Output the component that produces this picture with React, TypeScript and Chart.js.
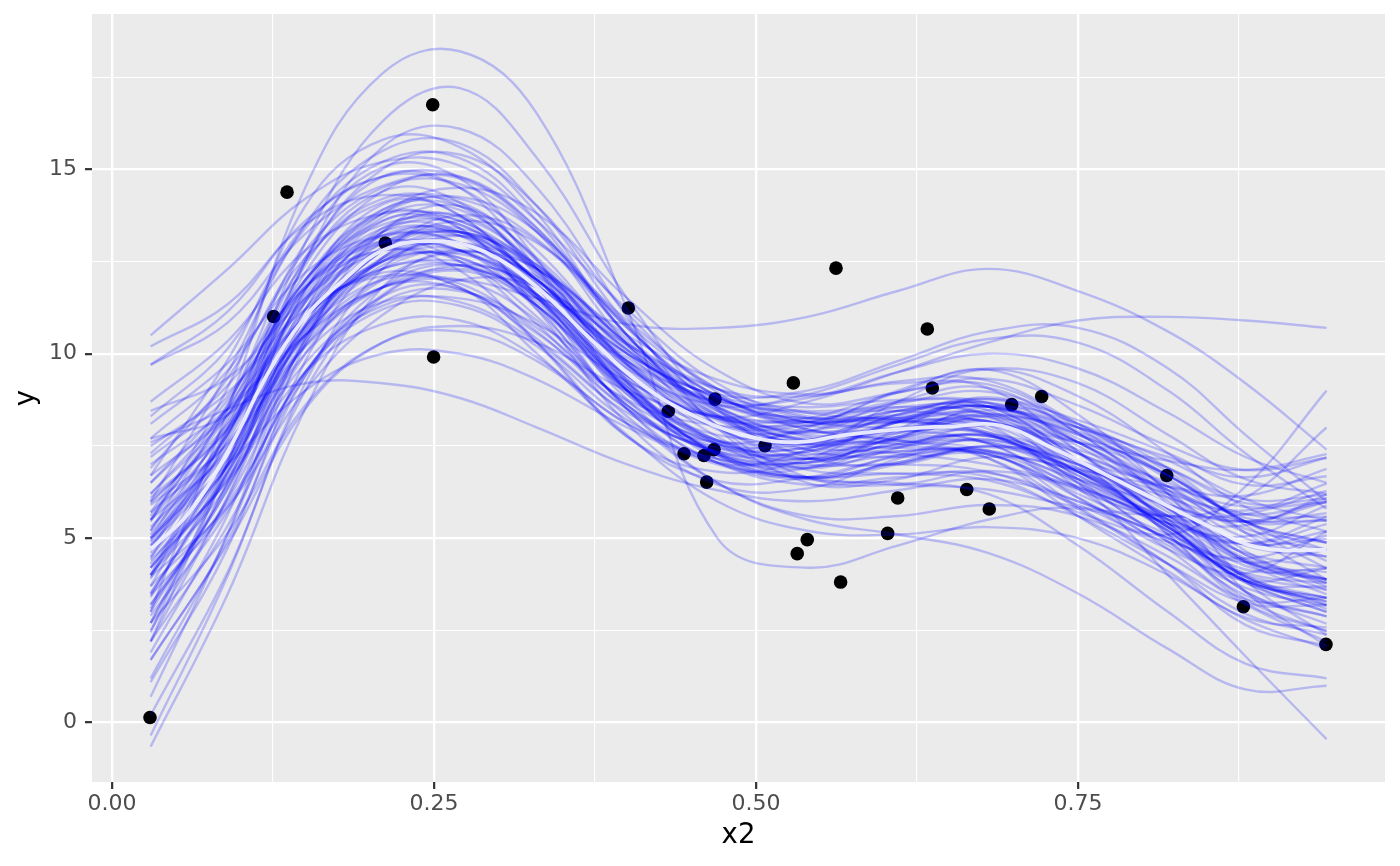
import React, { useEffect, useRef } from "react";
import { Chart, registerables } from "chart.js";

Chart.register(...registerables);

// x positions at which each posterior draw was read
const drawX = [0.03, 0.09, 0.15, 0.21, 0.27, 0.33, 0.4, 0.47, 0.54, 0.61, 0.68, 0.75, 0.82, 0.88, 0.943];

// posterior draws (y values at drawX)
const posteriorDraws: number[][] = [
  [3.0, 8.5, 14.5, 17.6, 18.2, 16.5, 11.2, 5.0, 4.2, 4.8, 5.5, 5.8, 5.0, 3.8, 3.0],
  [4.0, 8.0, 13.0, 16.3, 17.2, 15.3, 11.5, 8.5, 7.2, 7.0, 7.5, 7.0, 5.5, 4.0, 3.2],
  [2.2, 7.0, 12.5, 15.6, 16.1, 14.5, 11.0, 8.0, 6.5, 6.6, 7.2, 6.8, 5.6, 4.4, 3.6],
  [6.0, 9.5, 13.5, 15.5, 15.7, 14.0, 10.8, 8.6, 7.8, 8.0, 8.3, 7.5, 5.8, 4.4, 3.8],
  [5.5, 8.0, 11.5, 13.3, 13.2, 11.6, 9.3, 8.3, 8.7, 9.5, 10.3, 10.9, 11.0, 10.9, 10.7],
  [7.0, 8.5, 10.5, 11.8, 12.0, 11.5, 10.8, 10.7, 11.0, 11.7, 12.3, 11.7, 10.6, 9.2, 7.4],
  [5.5, 8.5, 12.0, 13.5, 13.5, 12.0, 9.8, 8.3, 7.7, 7.9, 7.8, 6.5, 4.0, 1.8, -0.45],
  [-0.65, 3.5, 8.5, 11.8, 12.8, 12.0, 9.8, 8.0, 7.3, 7.5, 7.6, 6.8, 5.6, 4.6, 4.2],
  [-0.35, 4.0, 9.2, 12.3, 13.2, 12.3, 10.2, 8.5, 7.6, 7.6, 7.6, 6.6, 5.2, 3.8, 3.0],
  [10.5, 12.3, 14.2, 15.2, 15.1, 13.6, 11.2, 9.2, 8.3, 8.3, 8.4, 7.6, 6.2, 5.0, 4.5],
  [7.6, 8.5, 9.2, 9.2, 8.8, 8.0, 7.0, 6.3, 6.0, 6.3, 6.6, 6.0, 5.0, 4.0, 3.6],
  [5.0, 7.0, 9.0, 10.0, 10.0, 9.3, 8.0, 7.0, 6.6, 7.0, 7.5, 7.0, 5.8, 4.8, 4.5],
  [4.0, 7.0, 10.8, 12.8, 12.8, 11.2, 8.5, 6.5, 5.5, 5.1, 4.6, 3.5, 2.0, 0.9, 1.0],
  [3.5, 6.8, 10.5, 12.5, 12.8, 11.5, 9.0, 7.3, 6.6, 6.5, 6.2, 4.8, 3.0, 1.6, 1.2],
  [4.2, 7.0, 10.6, 12.5, 12.6, 11.3, 9.0, 7.6, 7.0, 7.0, 6.8, 5.9, 5.1, 6.4, 9.0],
  [4.8, 7.8, 11.4, 13.2, 13.3, 12.0, 9.7, 8.2, 7.5, 7.3, 7.0, 6.4, 5.6, 6.1, 8.0],
  [6.2, 8.55, 12.0, 13.6, 13.7, 12.4, 10.0, 8.35, 7.85, 8.25, 8.57, 7.9, 6.9, 6.05, 6.18],
  [3.2, 6.05, 10.0, 12.0, 12.4, 11.3, 9.1, 7.65, 7.15, 7.35, 7.27, 6.1, 4.8, 3.65, 3.18],
  [7.7, 9.55, 12.6, 14.1, 14.2, 13.1, 10.8, 9.05, 8.25, 8.15, 7.87, 6.5, 4.9, 3.45, 2.88],
  [2.2, 5.35, 9.4, 11.4, 11.7, 10.7, 8.7, 7.65, 7.65, 8.35, 8.77, 8.0, 6.9, 5.95, 6.08],
  [5.2, 8.15, 12.2, 14.4, 14.8, 13.4, 10.5, 8.45, 7.65, 7.85, 8.07, 7.4, 6.5, 5.65, 5.58],
  [4.2, 6.65, 10.0, 11.4, 11.4, 10.3, 8.4, 7.45, 7.45, 7.95, 8.17, 7.1, 5.7, 4.35, 3.88],
  [6.7, 8.35, 11.0, 12.3, 12.4, 11.5, 9.8, 8.75, 8.45, 8.55, 8.37, 7.1, 5.6, 4.35, 4.08],
  [2.7, 6.55, 11.4, 13.7, 13.9, 12.3, 9.3, 7.25, 6.65, 7.05, 7.47, 6.9, 6.1, 5.45, 5.68],
  [5.7, 8.65, 12.5, 14.2, 14.0, 12.2, 9.2, 7.25, 6.65, 7.05, 7.37, 6.5, 5.2, 3.85, 3.28],
  [3.7, 5.95, 9.5, 11.6, 12.4, 11.8, 10.0, 8.85, 8.55, 8.75, 8.67, 7.6, 6.4, 5.45, 5.48],
  [8.7, 10.35, 12.8, 13.8, 13.6, 12.3, 10.1, 8.65, 8.15, 8.25, 8.27, 7.3, 6.3, 5.65, 5.98],
  [1.7, 4.95, 9.4, 11.8, 12.4, 11.4, 9.1, 7.55, 7.15, 7.55, 7.77, 6.7, 5.3, 3.95, 3.38],
  [4.7, 7.65, 11.6, 13.4, 13.3, 11.6, 8.9, 7.45, 7.35, 8.15, 8.77, 8.2, 7.3, 6.45, 6.68],
  [5.5, 7.35, 10.5, 12.3, 12.8, 12.1, 10.1, 8.55, 7.75, 7.55, 7.17, 5.8, 4.3, 2.95, 2.38],
  [6.9, 9.35, 12.8, 14.5, 14.6, 13.3, 10.7, 8.85, 8.15, 8.35, 8.57, 7.8, 6.7, 5.45, 4.88],
  [2.9, 5.75, 9.5, 11.2, 11.3, 10.2, 8.2, 7.15, 6.95, 7.25, 7.27, 6.2, 5.1, 4.35, 4.68],
  [5.9, 7.55, 10.2, 11.8, 12.3, 11.6, 9.7, 8.25, 7.55, 7.45, 7.27, 6.3, 5.4, 5.05, 5.88],
  [3.9, 7.75, 12.4, 14.4, 14.1, 12.1, 9.2, 7.65, 7.55, 8.35, 8.67, 7.6, 6.0, 4.35, 3.48],
  [7.3, 9.15, 11.8, 12.8, 12.5, 11.0, 8.6, 7.35, 7.35, 8.15, 8.57, 7.7, 6.4, 5.15, 4.68],
  [2.5, 6.15, 11.0, 13.4, 13.6, 11.9, 9.0, 7.25, 7.05, 7.75, 8.17, 7.1, 5.5, 3.95, 3.18],
  [5.0, 8.25, 12.6, 15.0, 15.4, 14.0, 11.1, 8.95, 8.05, 8.15, 8.17, 6.9, 5.3, 3.85, 3.38],
  [4.4, 6.55, 9.5, 10.8, 10.9, 9.9, 8.1, 7.15, 7.05, 7.35, 7.37, 6.6, 5.9, 5.45, 5.98],
  [6.5, 8.75, 11.8, 13.0, 12.8, 11.5, 9.4, 8.25, 8.05, 8.45, 8.67, 8.0, 7.2, 6.65, 7.18],
  [3.5, 6.75, 11.0, 13.1, 13.4, 12.4, 10.3, 8.75, 7.95, 7.65, 7.17, 5.6, 4.1, 2.85, 2.58],
  [5.3, 7.45, 10.7, 12.5, 13.0, 12.0, 9.6, 7.75, 6.85, 6.75, 6.57, 5.7, 4.9, 4.45, 5.08],
  [1.1, 4.75, 9.8, 12.6, 13.3, 12.2, 9.7, 8.05, 7.65, 8.15, 8.37, 7.3, 5.8, 4.45, 3.88],
  [8.1, 9.75, 12.2, 13.2, 13.0, 11.6, 9.4, 8.25, 8.25, 8.95, 9.17, 8.0, 6.3, 4.65, 3.68],
  [4.3, 7.15, 11.2, 13.3, 13.5, 11.9, 9.1, 7.35, 7.05, 7.75, 8.37, 7.8, 6.7, 5.45, 4.68],
  [5.6, 8.35, 11.8, 13.2, 13.0, 11.5, 9.2, 8.05, 8.05, 8.55, 8.47, 7.0, 5.2, 3.55, 2.68],
  [3.1, 6.35, 10.4, 12.4, 12.7, 11.8, 9.9, 8.65, 8.25, 8.25, 7.97, 6.7, 5.5, 4.85, 5.38],
  [4.9, 7.95, 12.0, 13.9, 14.0, 12.6, 10.3, 9.05, 8.85, 9.25, 9.27, 8.1, 6.7, 5.55, 5.48],
  [4.6, 6.95, 10.2, 11.8, 12.0, 10.9, 8.6, 7.05, 6.45, 6.65, 6.77, 6.0, 5.0, 4.05, 3.78],
  [9.7, 11.15, 13.6, 14.8, 14.8, 13.4, 10.7, 8.85, 8.25, 8.65, 8.97, 8.1, 6.8, 5.45, 4.88],
  [0.7, 5.15, 10.4, 12.9, 13.2, 11.8, 9.0, 7.15, 6.65, 7.25, 7.67, 6.8, 5.4, 3.95, 3.08],
  [6.1, 7.95, 11.0, 12.5, 12.6, 11.3, 8.9, 7.55, 7.45, 8.15, 8.57, 7.6, 6.1, 4.55, 3.78],
  [3.4, 7.05, 11.7, 13.9, 14.1, 12.5, 9.7, 7.95, 7.55, 7.95, 8.07, 6.8, 5.3, 4.15, 4.18],
  [7.5, 8.95, 11.2, 12.1, 11.9, 10.6, 8.5, 7.35, 7.15, 7.55, 7.77, 7.0, 6.2, 5.75, 6.48],
  [1.9, 5.65, 10.4, 12.8, 13.3, 12.3, 10.1, 8.45, 7.65, 7.65, 7.77, 7.1, 6.4, 5.85, 5.98],
  [5.1, 7.85, 11.4, 13.0, 13.3, 12.4, 10.4, 8.85, 7.95, 7.65, 7.37, 6.4, 5.5, 4.85, 4.98],
  [4.0, 6.45, 10.3, 12.6, 13.2, 12.0, 9.4, 7.65, 7.25, 7.85, 8.47, 8.0, 7.1, 6.05, 5.48],
  [8.3, 10.15, 13.4, 15.2, 15.3, 13.6, 10.5, 8.35, 7.55, 7.75, 7.87, 6.8, 5.3, 3.85, 3.28],
  [2.7, 5.15, 8.6, 10.3, 10.6, 9.8, 8.1, 7.05, 6.65, 6.75, 6.67, 5.6, 4.3, 3.25, 3.18],
  [4.8, 7.15, 10.7, 12.8, 13.6, 13.0, 10.9, 9.05, 8.15, 8.15, 8.17, 7.3, 6.3, 5.25, 4.88],
  [3.7, 7.35, 11.9, 13.8, 13.4, 11.2, 8.1, 6.45, 6.35, 7.15, 7.67, 6.8, 5.3, 3.85, 3.38],
  [4.5, 7.0, 10.5, 12.0, 11.8, 10.0, 7.8, 6.0, 5.2, 5.1, 5.3, 5.0, 4.0, 2.8, 2.0],
  [6.5, 8.5, 11.0, 12.2, 11.8, 10.4, 8.3, 6.5, 5.6, 5.6, 5.9, 5.6, 4.5, 3.2, 2.2],
  [5.0, 7.5, 11.0, 13.0, 13.3, 12.0, 9.8, 8.7, 8.8, 9.5, 10.0, 9.6, 8.4, 7.2, 6.5],
  [3.0, 6.5, 11.2, 13.6, 13.4, 11.3, 8.6, 7.6, 8.0, 9.0, 9.6, 9.2, 7.8, 6.6, 6.2],
  [6.0, 8.0, 11.2, 12.8, 12.8, 11.6, 9.6, 8.6, 8.9, 9.7, 10.4, 10.3, 9.0, 7.3, 5.8],
  [4.0, 6.8, 10.6, 12.6, 13.0, 12.0, 10.0, 8.9, 9.0, 9.8, 10.6, 10.7, 9.6, 7.8, 6.0],
  [5.95, 8.1, 11.0, 12.3, 12.5, 11.8, 10.0, 8.8, 8.15, 7.95, 7.57, 6.35, 5.4, 4.85, 5.58],
  [3.2, 6.35, 10.75, 13.3, 13.75, 12.3, 9.5, 7.55, 6.9, 7.45, 8.07, 7.6, 6.7, 5.45, 4.38],
  [7.2, 8.85, 12.0, 13.8, 14.25, 13.3, 10.75, 8.55, 7.4, 7.2, 7.32, 6.85, 6.4, 6.15, 6.88],
  [2.2, 6.1, 10.25, 11.8, 11.75, 10.55, 8.75, 8.05, 8.15, 8.7, 8.57, 7.1, 5.1, 3.25, 2.48],
  [5.2, 8.6, 13.0, 15.05, 14.75, 12.55, 9.25, 7.3, 6.9, 7.7, 8.57, 8.1, 6.9, 5.35, 4.18],
  [3.95, 5.85, 9.0, 11.05, 12.0, 11.8, 10.25, 9.05, 8.4, 8.2, 7.82, 6.85, 5.9, 5.45, 6.08],
  [8.45, 9.35, 11.5, 12.8, 13.0, 11.55, 8.75, 7.05, 6.9, 7.95, 8.82, 7.85, 5.9, 3.55, 2.08],
  [1.2, 5.1, 10.25, 13.3, 14.0, 12.55, 9.75, 8.05, 7.9, 8.45, 8.32, 6.6, 4.9, 3.85, 4.18],
  [6.7, 9.85, 13.5, 14.8, 14.5, 12.8, 10.25, 8.8, 8.4, 8.45, 8.07, 6.35, 4.7, 3.35, 3.38],
  [4.2, 6.6, 9.75, 11.3, 11.5, 10.8, 9.25, 8.3, 7.9, 7.95, 8.07, 7.6, 7.1, 6.85, 7.28],
  [5.7, 7.6, 10.75, 12.8, 13.75, 13.05, 10.5, 8.05, 6.65, 6.45, 6.82, 6.35, 5.4, 4.25, 3.88],
  [2.7, 6.85, 11.75, 14.05, 13.75, 11.55, 8.5, 7.05, 7.4, 8.7, 9.57, 8.85, 7.3, 5.85, 5.18],
  [9.7, 10.85, 13.25, 14.55, 14.75, 13.3, 10.25, 8.05, 7.15, 7.45, 7.82, 7.1, 5.9, 4.55, 3.88],
  [0.2, 4.1, 9.0, 11.55, 12.25, 11.3, 9.0, 7.8, 7.9, 8.7, 9.07, 7.85, 6.2, 4.85, 5.18],
  [4.7, 7.85, 11.5, 12.8, 12.25, 10.3, 7.75, 6.8, 7.15, 8.2, 8.57, 7.35, 5.4, 3.55, 2.88],
  [6.2, 8.35, 11.75, 13.8, 14.5, 13.8, 11.5, 9.55, 8.65, 8.95, 9.32, 8.6, 7.5, 6.85, 7.18],
  [3.45, 5.85, 9.5, 11.55, 11.75, 10.3, 7.75, 6.55, 6.65, 7.2, 7.32, 5.85, 4.3, 2.65, 2.08],
  [7.7, 8.35, 10.5, 12.05, 12.75, 12.3, 10.25, 8.3, 7.4, 7.7, 8.32, 7.85, 6.6, 5.15, 3.88],
  [2.45, 7.1, 12.5, 14.8, 14.5, 12.3, 9.0, 7.3, 7.15, 7.7, 7.57, 6.1, 4.7, 4.05, 5.18],
  [5.45, 9.1, 14.0, 15.8, 15.6, 13.8, 10.5, 8.55, 8.15, 8.95, 9.57, 8.35, 6.2, 3.85, 2.38],
  [1.7, 4.85, 8.5, 10.3, 10.75, 10.3, 9.0, 8.3, 8.15, 8.2, 7.82, 6.6, 5.6, 5.35, 6.18],
  [4.95, 7.35, 10.75, 12.55, 13.0, 12.3, 10.5, 9.3, 8.9, 9.2, 9.07, 7.35, 5.4, 3.85, 3.68],
  [4.45, 7.85, 11.75, 13.05, 12.5, 10.8, 8.5, 7.3, 6.65, 6.45, 6.32, 5.85, 5.6, 5.65, 6.28],
  [10.2, 11.35, 13.5, 14.3, 13.75, 11.8, 9.0, 7.55, 7.65, 8.45, 8.57, 7.1, 5.1, 3.35, 2.48],
];

// posterior mean curve (white line)
const meanX = [0.03, 0.06, 0.09, 0.12, 0.15, 0.18, 0.21, 0.25, 0.29, 0.33, 0.37, 0.41, 0.45, 0.49, 0.53, 0.57, 0.61, 0.65, 0.69, 0.73, 0.77, 0.81, 0.85, 0.89, 0.943];
const meanY = [4.7, 5.7, 7.35, 9.4, 11.0, 12.0, 12.8, 13.05, 12.75, 11.8, 10.45, 9.2, 8.35, 7.8, 7.6, 7.8, 7.95, 8.03, 8.05, 7.45, 6.75, 6.05, 5.35, 4.75, 4.68];

// observed data
const obsX = [0.0295, 0.1255, 0.1359, 0.2122, 0.249, 0.2497, 0.4009, 0.4319, 0.4441, 0.4596, 0.4617, 0.4674, 0.4682, 0.507, 0.529, 0.532, 0.5398, 0.5621, 0.5657, 0.6022, 0.61, 0.633, 0.6369, 0.6636, 0.6811, 0.6985, 0.7218, 0.8189, 0.8784, 0.9425];
const obsY = [0.14, 11.01, 14.38, 13.0, 16.75, 9.91, 11.24, 8.44, 7.29, 7.24, 6.52, 7.4, 8.77, 7.51, 9.21, 4.58, 4.96, 12.32, 3.81, 5.13, 6.09, 10.67, 9.07, 6.32, 5.79, 8.62, 8.84, 6.7, 3.14, 2.12];

// axes
const xMajorTicks = [0, 0.25, 0.5, 0.75];
const xMajorLabels = ["0.00", "0.25", "0.50", "0.75"];
const xMinorTicks = [0.125, 0.375, 0.625, 0.875];
const yMajorTicks = [0, 5, 10, 15];
const yMajorLabels = ["0", "5", "10", "15"];
const yMinorTicks = [2.5, 7.5, 12.5, 17.5];
const xLimits = [-0.01553, 0.98835];
const yLimits = [-1.61, 19.21];

function majorIndex(list: number[], v: number) {
  return list.findIndex((m) => Math.abs(m - v) < 1e-9);
}

export default function App() {
  const ref = useRef<HTMLCanvasElement>(null);

  useEffect(() => {
    const canvas = ref.current;
    if (!canvas) return;

    const panelBg = {
      id: "panelBg",
      beforeDraw(chart: any) {
        const { ctx, chartArea: a } = chart;
        ctx.save();
        ctx.fillStyle = "#FFFFFF";
        ctx.fillRect(0, 0, chart.width, chart.height);
        ctx.fillStyle = "#EBEBEB";
        ctx.fillRect(a.left, a.top, a.right - a.left, a.bottom - a.top);
        ctx.restore();
      },
    };

    const drawSets = posteriorDraws.map((ys) => ({
      data: ys.map((y, i) => ({ x: drawX[i], y })),
      borderColor: "rgba(0,0,255,0.22)",
      borderWidth: 2.4,
      pointRadius: 0,
      tension: 0.4,
      fill: false,
      order: 2,
    }));

    const meanSet = {
      data: meanY.map((y, i) => ({ x: meanX[i], y })),
      borderColor: "rgba(238,238,255,0.95)",
      borderWidth: 3.8,
      pointRadius: 0,
      tension: 0.4,
      fill: false,
      order: 1,
    };

    const pointSet = {
      data: obsY.map((y, i) => ({ x: obsX[i], y })),
      showLine: false,
      pointRadius: 6.8,
      pointBackgroundColor: "#000000",
      pointBorderColor: "#000000",
      pointBorderWidth: 0,
      borderColor: "#000000",
      order: 3,
    };

    const tickFont = { family: "'DejaVu Sans', sans-serif", size: 22 };
    const titleFont = { family: "'DejaVu Sans', sans-serif", size: 27.5 };

    const zeroPad = (s: any) => {
      s.paddingTop = 0;
      s.paddingBottom = 0;
      s.paddingLeft = 0;
      s.paddingRight = 0;
    };

    const chart = new Chart(canvas, {
      type: "line",
      data: { datasets: [meanSet, ...drawSets, pointSet] as any },
      plugins: [panelBg],
      options: {
        animation: false,
        responsive: false,
        maintainAspectRatio: false,
        layout: { padding: { left: 0, right: 15, top: 14, bottom: 0 } },
        plugins: {
          legend: { display: false },
          tooltip: { enabled: false },
        },
        scales: {
          x: {
            type: "linear",
            min: xLimits[0],
            max: xLimits[1],
            afterBuildTicks: (s: any) => {
              s.ticks = [...xMajorTicks, ...xMinorTicks]
                .sort((a, b) => a - b)
                .map((v) => ({ value: v }));
            },
            afterFit: (s: any) => {
              s.height = 84;
              zeroPad(s);
            },
            ticks: {
              autoSkip: false,
              maxRotation: 0,
              minRotation: 0,
              padding: 2,
              color: "#4D4D4D",
              font: tickFont,
              callback: (v: any) => {
                const i = majorIndex(xMajorTicks, Number(v));
                return i >= 0 ? xMajorLabels[i] : "";
              },
            },
            grid: {
              color: "#FFFFFF",
              lineWidth: (c: any) => (majorIndex(xMajorTicks, c.tick?.value) >= 0 ? 2.3 : 1.1),
              tickColor: (c: any) => (majorIndex(xMajorTicks, c.tick?.value) >= 0 ? "#333333" : "rgba(0,0,0,0)"),
              tickWidth: 2.2,
              tickLength: 7,
              drawTicks: true,
            },
            border: { display: false },
            title: {
              display: true,
              text: "x2",
              color: "#000000",
              font: titleFont,
              padding: { top: 0, bottom: 14 },
            },
          },
          y: {
            type: "linear",
            min: yLimits[0],
            max: yLimits[1],
            afterBuildTicks: (s: any) => {
              s.ticks = [...yMajorTicks, ...yMinorTicks]
                .sort((a, b) => a - b)
                .map((v) => ({ value: v }));
            },
            afterFit: (s: any) => {
              s.width = 92;
              zeroPad(s);
            },
            ticks: {
              autoSkip: false,
              padding: 8,
              color: "#4D4D4D",
              font: tickFont,
              callback: (v: any) => {
                const i = majorIndex(yMajorTicks, Number(v));
                return i >= 0 ? yMajorLabels[i] : "";
              },
            },
            grid: {
              color: "#FFFFFF",
              lineWidth: (c: any) => (majorIndex(yMajorTicks, c.tick?.value) >= 0 ? 2.3 : 1.1),
              tickColor: (c: any) => (majorIndex(yMajorTicks, c.tick?.value) >= 0 ? "#333333" : "rgba(0,0,0,0)"),
              tickWidth: 2.2,
              tickLength: 7,
              drawTicks: true,
            },
            border: { display: false },
            title: {
              display: true,
              text: "y",
              color: "#000000",
              font: titleFont,
              padding: { top: 10, bottom: 0 },
            },
          },
        },
      } as any,
    });

    return () => chart.destroy();
  }, []);

  return (
    <div style={{ position: "absolute", left: 0, top: 0, width: 1400, height: 866, background: "#FFFFFF" }}>
      <canvas ref={ref} width={1400} height={866} style={{ display: "block", width: 1400, height: 866 }} />
    </div>
  );
}
